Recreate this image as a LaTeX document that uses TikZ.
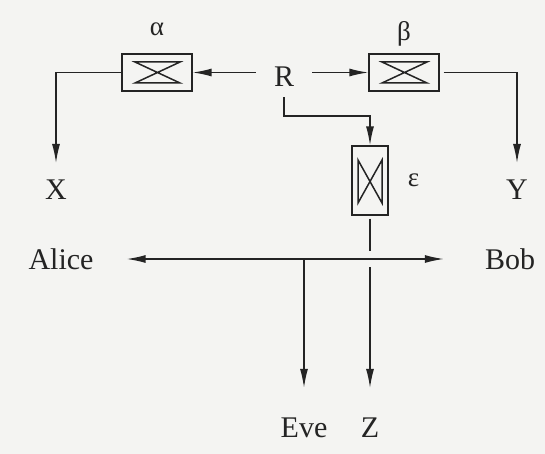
\documentclass[tikz,border=0pt]{standalone}
\usepackage{fontspec}
\setmainfont{Liberation Serif}
\usetikzlibrary{arrows.meta,positioning,calc}

\definecolor{paper}{RGB}{244,244,242}
\definecolor{ink}{RGB}{36,36,36}

\tikzset{
    wire/.style={draw=ink, line width=1.4pt},
    tip/.style={-{Latex[length=19pt,width=8pt]}},
    arr/.style={wire, tip},
    tag/.style={text=ink, inner sep=0pt, font=\fontsize{30}{31}\selectfont},
    greek/.style={text=ink, inner sep=0pt, font=\fontsize{27}{28}\selectfont},
    hbox/.style={draw=ink, line width=1.3pt, inner sep=0pt,
        minimum width=70pt, minimum height=37pt,
        path picture={\draw[ink, line width=1.5pt]
            ([shift={(13pt,-8pt)}]path picture bounding box.north west) --
            ([shift={(-12pt,-8pt)}]path picture bounding box.north east) --
            ([shift={(13pt,8pt)}]path picture bounding box.south west) --
            ([shift={(-12pt,8pt)}]path picture bounding box.south east) -- cycle;}},
    vbox/.style={draw=ink, line width=1.3pt, inner sep=0pt,
        minimum width=36pt, minimum height=69pt,
        path picture={\draw[ink, line width=1.5pt]
            ([shift={(6pt,-14pt)}]path picture bounding box.north west) --
            ([shift={(6pt,12pt)}]path picture bounding box.south west) --
            ([shift={(-6pt,-14pt)}]path picture bounding box.north east) --
            ([shift={(-6pt,12pt)}]path picture bounding box.south east) -- cycle;}}
}

\begin{document}
\begin{tikzpicture}[x=1pt, y=-1pt]
    \path[fill=paper, use as bounding box] (0,0) rectangle (545,454);

    % source and the three filters
    \node[tag, minimum width=56pt, minimum height=40pt] (R) at (284,77) {R};
    \node[hbox] (alpha) at (157,72.5) {};
    \node[hbox] (beta) at (404,72.5) {};
    \node[vbox] (eps) at (370,180.5) {};
    \node[greek, above=17pt of alpha] (alab) {α};
    \node[greek, above=7pt of beta] (blab) {β};
    \node[greek, right=19pt of eps] (elab) {ε};

    % outputs
    \node[tag] (X) at (56,190) {X};
    \node[tag] (Y) at (517,190) {Y};
    \node[tag] (Alice) at (61,259) {Alice};
    \node[tag] (Bob) at (510,259) {Bob};
    \node[tag] (Eve) at (304,428) {Eve};
    \node[tag] (Z) at (370,428) {Z};

    \coordinate (hopa) at ([yshift=8pt]Z |- Alice);
    \coordinate (hopb) at ([yshift=-8pt]Z |- Alice);

    \draw[arr] (alpha.east -| R.west) -- (alpha.east);
    \draw[arr] (beta.west -| R.east) -- (beta.west);
    \draw[arr] (R.south) -- ++(0,19) -| (eps.north);
    \draw[arr, shorten >=17pt] (alpha.west) -| (X.north);
    \draw[arr, shorten <=4pt, shorten >=17pt] (beta.east) -| (Y.north);

    \draw[wire, {Latex[length=19pt,width=8pt]}-{Latex[length=19pt,width=8pt]}, shorten <=33pt, shorten >=41pt] (Alice.east) -- (Bob.west);
    \draw[arr, shorten >=30pt] (Eve |- Alice) -- (Eve.north);
    \draw[wire, shorten <=3pt] (eps.south) -- (hopa);
    \draw[arr, shorten >=30pt] (hopb) -- (Z.north);
\end{tikzpicture}
\end{document}
